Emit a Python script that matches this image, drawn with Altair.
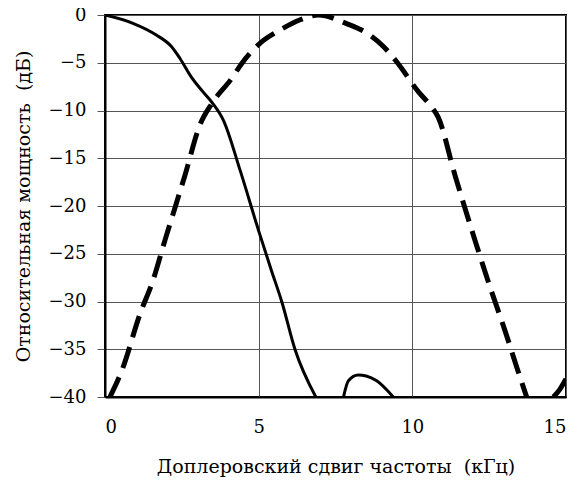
import altair as alt
import pandas as pd

# Solid curve (two lobes)
solid1_x = [0, 0.91, 1.67, 2.16, 2.43, 2.81, 3.19, 3.51, 3.85, 4.4, 5.0, 5.42, 5.75, 6.18, 6.86]
solid1_y = [0, -0.87, -2.1, -3.3, -4.5, -6.5, -8.05, -9.27, -11.0, -16.3, -22.6, -26.8, -30.0, -35.0, -40.0]
solid2_x = [7.76, 7.92, 8.24, 8.5, 8.84, 9.38]
solid2_y = [-40.0, -38.3, -37.7, -37.8, -38.3, -40.0]

# Dashed curve
dash1_x = [0.16, 0.54, 1.14, 1.56, 1.95, 2.6, 3.09, 3.47, 4.12, 4.45, 5.04, 5.7, 6.35, 6.94,
           7.86, 8.52, 9.06, 9.49, 10.2, 10.58, 10.84, 11.39, 12.04, 12.53, 13.02, 13.4, 13.72]
dash1_y = [-40.0, -37.3, -31.3, -27.8, -23.6, -16.8, -11.5, -9.3, -6.65, -5.07, -2.97, -1.57, -0.5, 0.0,
           -0.9, -1.9, -3.3, -4.9, -8.05, -9.45, -10.7, -16.8, -23.6, -28.5, -33.1, -36.9, -40.0]
dash2_x = [14.59, 14.8, 15.0]
dash2_y = [-40.0, -39.2, -38.1]

x_ticks = [0, 5, 10, 15]
y_ticks = [-40, -35, -30, -25, -20, -15, -10, -5, 0]

solid = pd.DataFrame({
    "x": solid1_x + solid2_x,
    "y": solid1_y + solid2_y,
    "seg": ["a"] * len(solid1_x) + ["b"] * len(solid2_x),
})
dashed = pd.DataFrame({
    "x": dash1_x + dash2_x,
    "y": dash1_y + dash2_y,
    "seg": ["a"] * len(dash1_x) + ["b"] * len(dash2_x),
})

FONT = "DejaVu Serif"

xenc = alt.X("x:Q", scale=alt.Scale(domain=[0, 15], nice=False, zero=False),
             axis=alt.Axis(values=x_ticks, title="Доплеровский сдвиг частоты\u00a0 (кГц)",
                           ticks=False, tickSize=0, labelPadding=21, titlePadding=21,
                           grid=True, gridColor="#555555", gridWidth=1,
                           domainColor="black", domainWidth=2,
                           labelFont=FONT, titleFont=FONT))
yenc = alt.Y("y:Q", scale=alt.Scale(domain=[-40, 0], nice=False, zero=False),
             axis=alt.Axis(values=y_ticks, title="Относительная мощность\u00a0 (дБ)",
                           ticks=True, tickSize=8, tickColor="#555555", tickWidth=1,
                           labelPadding=11, titlePadding=15,
                           grid=True, gridColor="#555555", gridWidth=1,
                           domainColor="black", domainWidth=2,
                           labelFont=FONT, titleFont=FONT))

line1 = alt.Chart(solid).mark_line(color="black", strokeWidth=3, clip=True,
                                    interpolate="monotone").encode(
    x=xenc, y=yenc, detail="seg:N")
line2 = alt.Chart(dashed).mark_line(color="black", strokeWidth=5, strokeDash=[22, 10],
                                     clip=True, interpolate="monotone").encode(
    x=xenc, y=yenc, detail="seg:N")

chart = alt.layer(line1, line2).properties(
    width=461, height=382,
    autosize=alt.AutoSizeParams(type="none"),
    padding={"left": 97, "top": 7, "right": 4, "bottom": 82},
).configure(background="white").configure_view(
    stroke="black", strokeWidth=2
).configure_axis(
    labelFontSize=18, titleFontSize=19,
    titleFontWeight="normal", labelColor="black", titleColor="black",
)

chart.save("out.html", embed_options={"renderer": "svg", "actions": False})
